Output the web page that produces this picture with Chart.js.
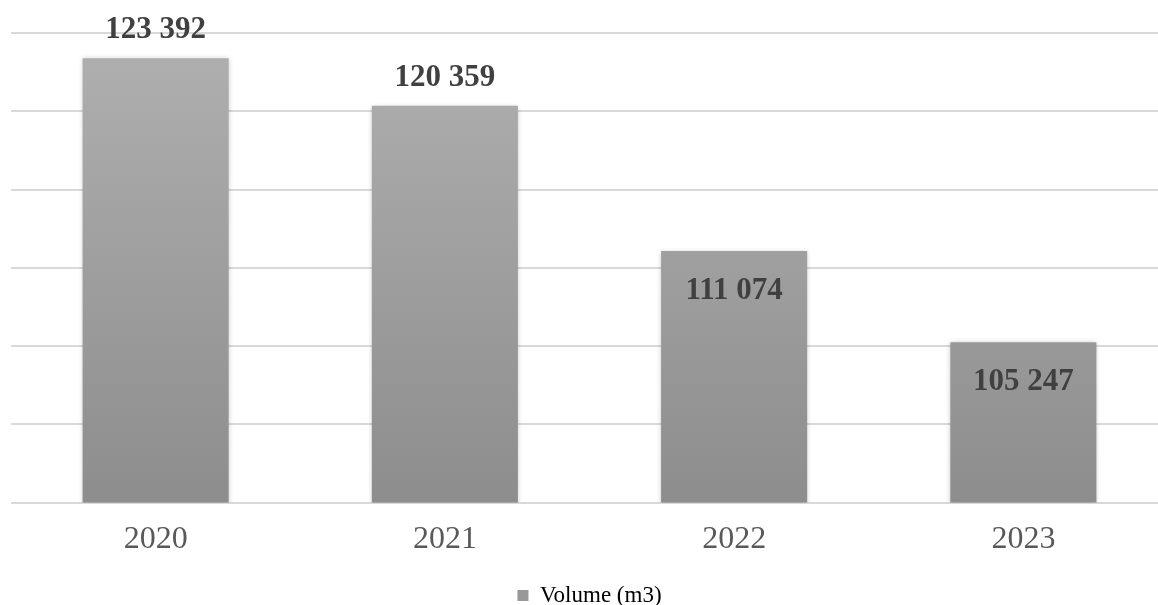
<!DOCTYPE html>
<html>
<head>
<meta charset="utf-8">
<script src="https://cdn.jsdelivr.net/npm/chart.js@4/dist/chart.umd.min.js"></script>
<style>
  html, body { margin: 0; padding: 0; background: #ffffff; overflow: hidden; }
  #wrap { width: 1170px; height: 627px; position: relative; }
</style>
</head>
<body>
<div id="wrap"><canvas id="c"></canvas></div>
<script>
const categories = ['2020', '2021', '2022', '2023'];
const volumeValues = [123392, 120359, 111074, 105247];
const labelPlacement = ['out', 'out', 'in', 'in'];
const seriesName = 'Volume (m3)';
const yMin = 95000, yMax = 125000, yStep = 5000;

function fmt(v) {
  return String(v).replace(/\B(?=(\d{3})+(?!\d))/g, ' ');
}

function barGradient(ctx) {
  const chart = ctx.chart;
  const area = chart.chartArea;
  if (!area) return '#a0a0a0';
  const g = chart.ctx.createLinearGradient(0, area.top, 0, area.bottom);
  g.addColorStop(0, '#b0b0b0');
  g.addColorStop(1, '#8d8d8d');
  return g;
}

const shadowPlugin = {
  id: 'shadow',
  beforeDatasetsDraw(chart) {
    const c = chart.ctx;
    c.save();
    c.shadowColor = 'rgba(0,0,0,0.25)';
    c.shadowBlur = 5;
    c.shadowOffsetX = 0;
    c.shadowOffsetY = 1;
  },
  afterDatasetsDraw(chart) {
    chart.ctx.restore();
  }
};

const labelPlugin = {
  id: 'valueLabels',
  afterDatasetsDraw(chart) {
    const c = chart.ctx;
    const meta = chart.getDatasetMeta(0);
    c.save();
    c.font = 'bold 31px "Liberation Serif"';
    c.fillStyle = '#404040';
    c.textAlign = 'center';
    c.textBaseline = 'middle';
    meta.data.forEach((bar, i) => {
      const v = chart.data.datasets[0].data[i];
      const y = labelPlacement[i] === 'out' ? bar.y - 28 : bar.y + 40;
      c.fillText(fmt(v), bar.x, y);
    });
    c.restore();
  }
};

new Chart(document.getElementById('c'), {
  type: 'bar',
  data: {
    labels: categories,
    datasets: [{
      label: seriesName,
      data: volumeValues,
      backgroundColor: barGradient,
      borderWidth: 0,
      barPercentage: 1,
      categoryPercentage: 0.505
    }]
  },
  options: {
    responsive: true,
    maintainAspectRatio: false,
    animation: false,
    layout: { padding: { left: 11, right: 2, top: 33, bottom: 10 } },
    plugins: {
      legend: {
        position: 'bottom',
        labels: {
          font: { family: '"Liberation Serif"', size: 23 },
          color: '#595959',
          boxWidth: 11,
          boxHeight: 11,
          padding: 7,
          generateLabels(chart) {
            return [{ text: seriesName, fillStyle: '#999999', strokeStyle: '#999999', lineWidth: 0, hidden: false, datasetIndex: 0 }];
          }
        }
      },
      tooltip: { enabled: false }
    },
    scales: {
      x: {
        grid: { display: false, drawTicks: false },
        border: { display: false },
        ticks: { font: { family: '"Liberation Serif"', size: 32 }, color: '#595959', padding: 18 }
      },
      y: {
        min: yMin, max: yMax,
        ticks: { display: false, stepSize: yStep },
        grid: { color: '#d9d9d9', lineWidth: 2, drawTicks: false },
        border: { display: false }
      }
    }
  },
  plugins: [shadowPlugin, labelPlugin]
});
</script>
</body>
</html>
